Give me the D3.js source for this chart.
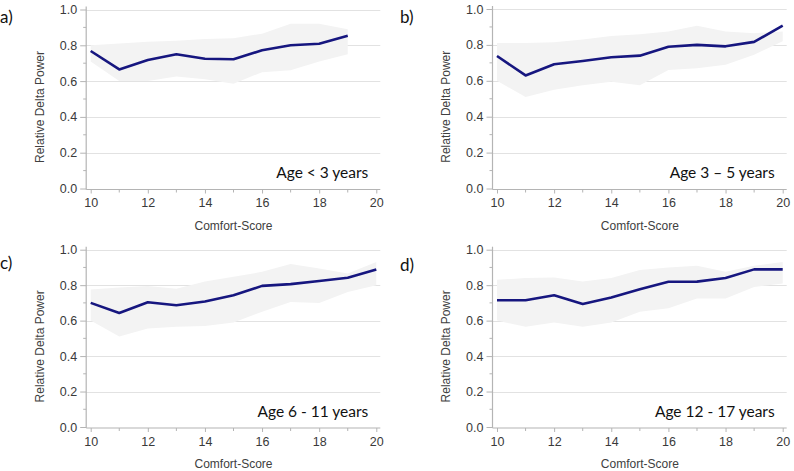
<!DOCTYPE html>
<html>
<head>
<meta charset="utf-8">
<script src="https://cdn.jsdelivr.net/npm/d3@7"></script>
<style>
  body { margin: 0; background: #fff; }
  svg { display: block; }
</style>
</head>
<body>
<div id="chart"></div>
<script>
// Comfort-Score categories on the x axis
const scores = [10, 11, 12, 13, 14, 15, 16, 17, 18, 19, 20];
const yTicks = [0, 0.2, 0.4, 0.6, 0.8, 1.0];
const xTicks = [10, 12, 14, 16, 18, 20];

// a) Age < 3 years (no value at 20)
const meanA = [0.768, 0.665, 0.718, 0.75, 0.725, 0.722, 0.772, 0.80, 0.809, 0.854];
const hiA   = [0.80, 0.81, 0.82, 0.825, 0.835, 0.84, 0.865, 0.92, 0.92, 0.89];
const loA   = [0.71, 0.60, 0.60, 0.626, 0.61, 0.585, 0.65, 0.66, 0.71, 0.75];

// b) Age 3 - 5 years
const meanB = [0.738, 0.63, 0.692, 0.71, 0.731, 0.74, 0.79, 0.80, 0.792, 0.817, 0.907];
const hiB   = [0.81, 0.81, 0.815, 0.83, 0.85, 0.86, 0.875, 0.907, 0.875, 0.865, 0.875];
const loB   = [0.60, 0.51, 0.55, 0.575, 0.595, 0.575, 0.66, 0.67, 0.69, 0.745, 0.82];

// c) Age 6 - 11 years
const meanC = [0.70, 0.643, 0.704, 0.687, 0.708, 0.743, 0.796, 0.806, 0.823, 0.842, 0.889];
const hiC   = [0.775, 0.787, 0.795, 0.78, 0.82, 0.847, 0.875, 0.92, 0.894, 0.866, 0.93];
const loC   = [0.60, 0.51, 0.555, 0.565, 0.57, 0.59, 0.65, 0.705, 0.70, 0.762, 0.80];

// d) Age 12 - 17 years
const meanD = [0.715, 0.715, 0.743, 0.694, 0.73, 0.777, 0.819, 0.82, 0.84, 0.889, 0.889];
const hiD   = [0.83, 0.84, 0.843, 0.82, 0.84, 0.885, 0.90, 0.91, 0.875, 0.91, 0.93];
const loD   = [0.60, 0.565, 0.59, 0.565, 0.59, 0.65, 0.67, 0.725, 0.725, 0.79, 0.81];

const panels = [
  { tag: "a)", label: "Age < 3 years",    mean: meanA, hi: hiA, lo: loA,
    left: 90.7, right: 376.3, top: 9.5, bottom: 188.5, tagX: 0, tagY: 23 },
  { tag: "b)", label: "Age 3 \u2013 5 years", mean: meanB, hi: hiB, lo: loB,
    left: 497, right: 782.7, top: 9, bottom: 188.5, tagX: 400, tagY: 23 },
  { tag: "c)", label: "Age 6 - 11 years", mean: meanC, hi: hiC, lo: loC,
    left: 90.7, right: 376.3, top: 249.7, bottom: 427, tagX: 0, tagY: 269 },
  { tag: "d)", label: "Age 12 - 17 years", mean: meanD, hi: hiD, lo: loD,
    left: 497, right: 782.7, top: 249.7, bottom: 427, tagX: 400, tagY: 271 }
];

const svg = d3.select("#chart").append("svg")
  .attr("width", 794)
  .attr("height", 471);

const tickFont = "'Liberation Sans', Arial, sans-serif";
const calFont = "Lato, 'Open Sans', sans-serif";

panels.forEach(p => {
  const x = d3.scaleLinear().domain([10, 20]).range([p.left, p.right]);
  const y = d3.scaleLinear().domain([0, 1]).range([p.bottom, p.top]);
  const axisX = p.left - 4.5;
  const gridEnd = p.right + 4;

  const g = svg.append("g");

  // panel tag
  svg.append("text")
    .attr("x", p.tagX)
    .attr("y", p.tagY)
    .style("font-family", calFont)
    .style("font-size", "17px")
    .attr("fill", "#111")
    .text(p.tag);

  // gridlines
  g.selectAll(".grid")
    .data(yTicks.slice(1))
    .enter().append("line")
    .attr("x1", axisX).attr("x2", gridEnd)
    .attr("y1", d => Math.round(y(d)) + 0.5)
    .attr("y2", d => Math.round(y(d)) + 0.5)
    .attr("stroke", "#e2e2e2")
    .attr("stroke-width", 1);

  // band
  const n = p.mean.length;
  const bandData = d3.range(n).map(i => ({ s: scores[i], lo: p.lo[i], hi: p.hi[i] }));
  g.append("path")
    .datum(bandData)
    .attr("fill", "#f3f3f3")
    .attr("d", d3.area().x(d => x(d.s)).y0(d => y(d.lo)).y1(d => y(d.hi)));

  // mean line
  const lineData = d3.range(n).map(i => ({ s: scores[i], v: p.mean[i] }));
  g.append("path")
    .datum(lineData)
    .attr("fill", "none")
    .attr("stroke", "#16167f")
    .attr("stroke-width", 2.6)
    .attr("stroke-linejoin", "round")
    .attr("d", d3.line().x(d => x(d.s)).y(d => y(d.v)));

  // y axis
  const yAxisG = g.append("g")
    .attr("transform", "translate(" + axisX + ",0)")
    .call(d3.axisLeft(y).tickValues(yTicks).tickFormat(d3.format(".1f")).tickSize(6).tickPadding(3));
  yAxisG.append("g").selectAll("line")
    .data(d3.range(0.1, 1, 0.2))
    .enter().append("line")
    .attr("x1", -3).attr("x2", 0)
    .attr("y1", d => y(d)).attr("y2", d => y(d))
    .attr("stroke", "#b4b4b4");
  yAxisG.select(".domain").attr("d", "M0," + (p.bottom + 1) + "V" + (p.top - 3));

  // x axis
  const xAxisG = g.append("g")
    .attr("transform", "translate(0," + (p.bottom + 1) + ")")
    .call(d3.axisBottom(x).tickValues(xTicks).tickFormat(d3.format("d")).tickSize(4).tickPadding(5));
  xAxisG.append("g").selectAll("line")
    .data([11, 13, 15, 17, 19])
    .enter().append("line")
    .attr("x1", d => x(d)).attr("x2", d => x(d))
    .attr("y1", 0).attr("y2", 3)
    .attr("stroke", "#b4b4b4");
  xAxisG.select(".domain").attr("d", "M" + axisX + ",0H" + gridEnd);

  [yAxisG, xAxisG].forEach(a => {
    a.selectAll(".domain").attr("stroke", "#b4b4b4").attr("stroke-width", 1.2);
    a.selectAll(".tick line").attr("stroke", "#b4b4b4");
    a.selectAll("text")
      .style("font-family", tickFont)
      .style("font-size", "12.5px")
      .attr("fill", "#3a3a3a");
  });

  // axis titles
  g.append("text")
    .attr("x", (p.left + p.right) / 2)
    .attr("y", p.bottom + 41)
    .attr("text-anchor", "middle")
    .style("font-family", tickFont)
    .style("font-size", "12px")
    .attr("fill", "#404040")
    .text("Comfort-Score");

  g.append("text")
    .attr("transform", "translate(" + (p.left - 47) + "," + ((p.top + p.bottom) / 2 + 8) + ") rotate(-90)")
    .attr("text-anchor", "middle")
    .style("font-family", tickFont)
    .style("font-size", "12px")
    .attr("fill", "#404040")
    .text("Relative Delta Power");

  // age label
  g.append("text")
    .attr("x", p.right - 8)
    .attr("y", p.bottom - 10.5)
    .attr("text-anchor", "end")
    .style("font-family", calFont)
    .style("font-size", "15.5px")
    .attr("fill", "#111")
    .text(p.label);
});
</script>
</body>
</html>
